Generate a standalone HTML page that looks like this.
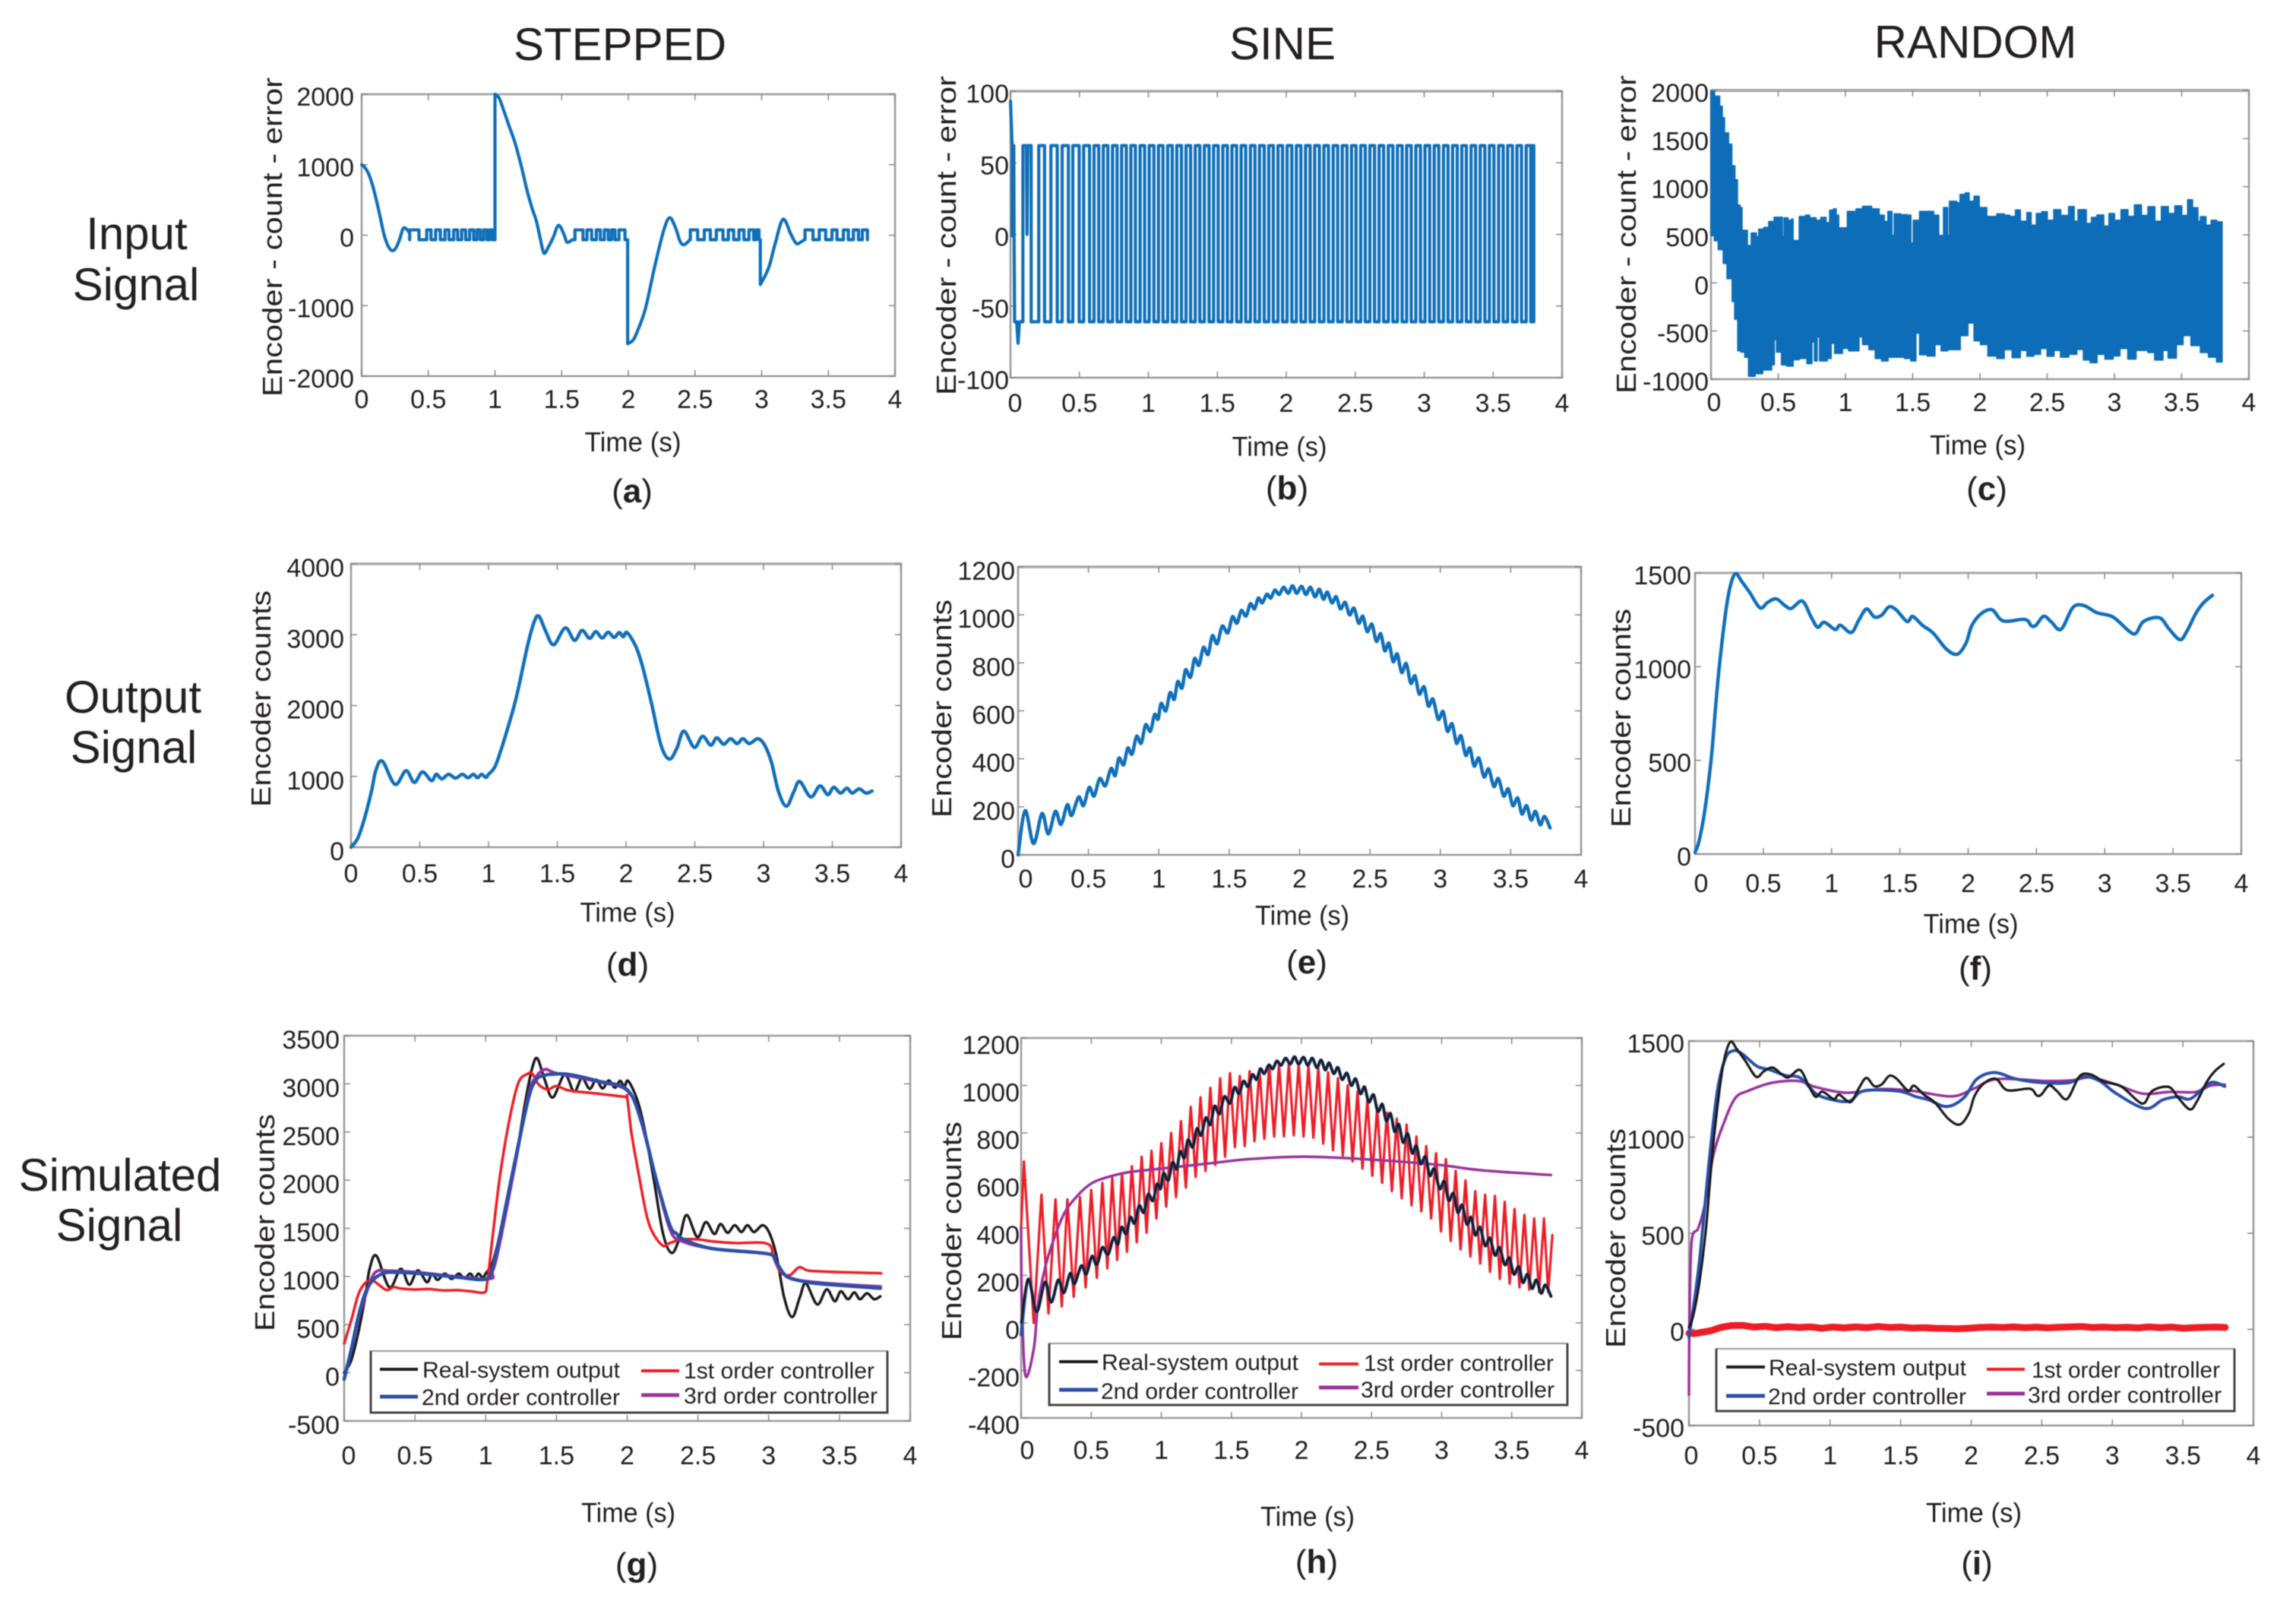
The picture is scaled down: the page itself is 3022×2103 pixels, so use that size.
<!DOCTYPE html>
<html lang="en">
<head>
<meta charset="utf-8">
<title>Controller signals</title>
<style>
html,body{margin:0;padding:0;background:#fff}
svg{display:block;filter:blur(0.6px)}
text{font-family:"Liberation Sans",sans-serif;fill:#231f20}
.ttl{font-size:60px;text-anchor:middle}
.ax{font-size:36px}
.tm{font-size:36px;text-anchor:middle}
.cap{font-size:44px;text-anchor:middle}
.cap tspan{font-weight:bold}
.lg{font-size:30px}
</style>
</head>
<body>
<svg id="figure" width="3022" height="2103" viewBox="0 0 3022 2103" xmlns="http://www.w3.org/2000/svg">
<rect width="3022" height="2103" fill="#fff"/>
<text class="ttl" x="816" y="79">STEPPED</text>
<text class="ttl" x="1688" y="78">SINE</text>
<text class="ttl" x="2600" y="76">RANDOM</text>
<text class="ttl" x="180" y="328">Input</text>
<text class="ttl" x="179" y="395">Signal</text>
<text class="ttl" x="175" y="938">Output</text>
<text class="ttl" x="176" y="1004">Signal</text>
<text class="ttl" x="158" y="1567">Simulated</text>
<text class="ttl" x="157" y="1633">Signal</text>

<g><g id="plot-a"></g>
<text class="ax" transform="translate(371,522) rotate(-90)" textLength="420" lengthAdjust="spacingAndGlyphs">Encoder - count - error</text>
<text class="tm" x="833" y="594" textLength="127" lengthAdjust="spacingAndGlyphs">Time (s)</text>
<text class="cap" x="832" y="661">(<tspan>a</tspan>)</text></g>

<g><g id="plot-b"></g>
<text class="ax" transform="translate(1258,520) rotate(-90)" textLength="420" lengthAdjust="spacingAndGlyphs">Encoder - count - error</text>
<text class="tm" x="1684" y="600" textLength="125" lengthAdjust="spacingAndGlyphs">Time (s)</text>
<text class="cap" x="1694" y="657">(<tspan>b</tspan>)</text></g>

<g><g id="plot-c"></g>
<text class="ax" transform="translate(2153,518) rotate(-90)" textLength="419" lengthAdjust="spacingAndGlyphs">Encoder - count - error</text>
<text class="tm" x="2603" y="598" textLength="126" lengthAdjust="spacingAndGlyphs">Time (s)</text>
<text class="cap" x="2615" y="658">(<tspan>c</tspan>)</text></g>

<g><g id="plot-d"></g>
<text class="ax" transform="translate(356,1062) rotate(-90)" textLength="285" lengthAdjust="spacingAndGlyphs">Encoder counts</text>
<text class="tm" x="826" y="1213" textLength="125" lengthAdjust="spacingAndGlyphs">Time (s)</text>
<text class="cap" x="826" y="1284">(<tspan>d</tspan>)</text></g>

<g><g id="plot-e"></g>
<text class="ax" transform="translate(1252,1076) rotate(-90)" textLength="287" lengthAdjust="spacingAndGlyphs">Encoder counts</text>
<text class="tm" x="1714" y="1217" textLength="124" lengthAdjust="spacingAndGlyphs">Time (s)</text>
<text class="cap" x="1720" y="1281">(<tspan>e</tspan>)</text></g>

<g><g id="plot-f"></g>
<text class="ax" transform="translate(2146,1089) rotate(-90)" textLength="288" lengthAdjust="spacingAndGlyphs">Encoder counts</text>
<text class="tm" x="2594" y="1228" textLength="125" lengthAdjust="spacingAndGlyphs">Time (s)</text>
<text class="cap" x="2600" y="1289">(<tspan>f</tspan>)</text></g>

<g><g id="plot-g"></g>
<text class="ax" transform="translate(361,1752) rotate(-90)" textLength="286" lengthAdjust="spacingAndGlyphs">Encoder counts</text>
<text class="tm" x="827" y="2003" textLength="124" lengthAdjust="spacingAndGlyphs">Time (s)</text>
<text class="cap" x="838" y="2074">(<tspan>g</tspan>)</text>
<g>
<rect x="488" y="1778" width="680" height="81" fill="#fff" stroke="#999" stroke-width="2"/>
<path d="M488 1778V1859H1168V1778" fill="none" stroke="#444" stroke-width="3"/>
<line x1="500" x2="550" y1="1802" y2="1802" stroke="#1a1a1a" stroke-width="4"/>
<text class="lg" x="556" y="1813" textLength="260" lengthAdjust="spacingAndGlyphs">Real-system output</text>
<line x1="844" x2="894" y1="1804" y2="1804" stroke="#ee1c25" stroke-width="4"/>
<text class="lg" x="900" y="1814" textLength="251" lengthAdjust="spacingAndGlyphs">1st order controller</text>
<line x1="500" x2="550" y1="1838" y2="1838" stroke="#2a4fa8" stroke-width="5"/>
<text class="lg" x="555" y="1849" textLength="261" lengthAdjust="spacingAndGlyphs">2nd order controller</text>
<line x1="844" x2="894" y1="1836" y2="1836" stroke="#9b329b" stroke-width="5"/>
<text class="lg" x="900" y="1847" textLength="255" lengthAdjust="spacingAndGlyphs">3rd order controller</text>
</g></g>

<g><g id="plot-h"></g>
<text class="ax" transform="translate(1265,1764) rotate(-90)" textLength="288" lengthAdjust="spacingAndGlyphs">Encoder counts</text>
<text class="tm" x="1721" y="2008" textLength="124" lengthAdjust="spacingAndGlyphs">Time (s)</text>
<text class="cap" x="1733" y="2070">(<tspan>h</tspan>)</text>
<g>
<rect x="1381" y="1768" width="682" height="81" fill="#fff" stroke="#999" stroke-width="2"/>
<path d="M1381 1768V1849H2063V1768" fill="none" stroke="#444" stroke-width="3"/>
<line x1="1394" x2="1445" y1="1792" y2="1792" stroke="#1a1a1a" stroke-width="4"/>
<text class="lg" x="1450" y="1803" textLength="259" lengthAdjust="spacingAndGlyphs">Real-system output</text>
<line x1="1736" x2="1788" y1="1795" y2="1795" stroke="#ee1c25" stroke-width="4"/>
<text class="lg" x="1795" y="1804" textLength="250" lengthAdjust="spacingAndGlyphs">1st order controller</text>
<line x1="1394" x2="1445" y1="1829" y2="1829" stroke="#2a4fa8" stroke-width="5"/>
<text class="lg" x="1449" y="1841" textLength="260" lengthAdjust="spacingAndGlyphs">2nd order controller</text>
<line x1="1736" x2="1788" y1="1826" y2="1826" stroke="#9b329b" stroke-width="5"/>
<text class="lg" x="1791" y="1839" textLength="255" lengthAdjust="spacingAndGlyphs">3rd order controller</text>
</g></g>

<g><g id="plot-i"></g>
<text class="ax" transform="translate(2139,1774) rotate(-90)" textLength="289" lengthAdjust="spacingAndGlyphs">Encoder counts</text>
<text class="tm" x="2598" y="2003" textLength="126" lengthAdjust="spacingAndGlyphs">Time (s)</text>
<text class="cap" x="2602" y="2072">(<tspan>i</tspan>)</text>
<g>
<rect x="2259" y="1775" width="682" height="82" fill="#fff" stroke="#999" stroke-width="2"/>
<path d="M2259 1775V1857H2941V1775" fill="none" stroke="#444" stroke-width="3"/>
<line x1="2272" x2="2323" y1="1799" y2="1799" stroke="#1a1a1a" stroke-width="4"/>
<text class="lg" x="2328" y="1810" textLength="260" lengthAdjust="spacingAndGlyphs">Real-system output</text>
<line x1="2615" x2="2665" y1="1802" y2="1802" stroke="#ee1c25" stroke-width="4"/>
<text class="lg" x="2674" y="1813" textLength="248" lengthAdjust="spacingAndGlyphs">1st order controller</text>
<line x1="2272" x2="2323" y1="1837" y2="1837" stroke="#2a4fa8" stroke-width="5"/>
<text class="lg" x="2327" y="1848" textLength="261" lengthAdjust="spacingAndGlyphs">2nd order controller</text>
<line x1="2615" x2="2665" y1="1834" y2="1834" stroke="#9b329b" stroke-width="5"/>
<text class="lg" x="2669" y="1846" textLength="255" lengthAdjust="spacingAndGlyphs">3rd order controller</text>
</g></g>
</svg>
<script>
const xTickValues = [0,0.5,1,1.5,2,2.5,3,3.5,4];
const xTickLabels = ['0','0.5','1','1.5','2','2.5','3','3.5','4'];
const yTicksA = [-2000,-1000,0,1000,2000];
const yTicksB = [-100,-50,0,50,100];
const yTicksC = [-1000,-500,0,500,1000,1500,2000];
const yTicksD = [0,1000,2000,3000,4000];
const yTicksE = [0,200,400,600,800,1000,1200];
const yTicksF = [0,500,1000,1500];
const yTicksG = [-500,0,500,1000,1500,2000,2500,3000,3500];
const yTicksH = [-400,-200,0,200,400,600,800,1000,1200];
const yTicksI = [-500,0,500,1000,1500];

/* panel (a) stepped input error: curve pieces and square-wave switching times */
const errA1T = [0,.02,.05,.08,.11,.14,.165,.19,.21,.23,.25,.27,.29,.305,.32,.34,.36];
const errA1V = [1000,970,880,720,500,250,30,-120,-190,-220,-200,-130,-30,70,105,80,30];
const errA1Edges = [.36,.43,.488,.52,.555,.59,.625,.655,.69,.72,.75,.78,.81,.84,.865,.89,.915,.94,.96,.98,.99];
const errA2T = [1,1,1.03,1.06,1.1,1.15,1.2,1.24,1.28,1.31,1.34,1.367,1.4,1.437,1.477,1.52,1.54,1.58];
const errA2V = [-65,2000,1950,1800,1580,1311,960,638,370,204,-50,-255,-170,-30,140,0,-100,-65];
const errA2Edges = [1.6,1.66,1.69,1.725,1.76,1.79,1.82,1.85,1.875,1.9,1.93,1.975];
const errA3T = [1.995,1.995,2.03,2.06,2.127,2.195,2.264,2.31,2.355,2.387,2.416,2.453,2.46];
const errA3V = [-65,-1540,-1500,-1400,-1050,-470,60,248,100,-83,-137,-83,-65];
const errA3Edges = [2.465,2.52,2.57,2.615,2.66,2.71,2.75,2.79,2.83,2.867,2.905,2.94,2.96,2.98];
const errA4T = [2.99,2.99,3.03,3.06,3.1,3.16,3.22,3.26,3.3,3.32];
const errA4V = [-65,-700,-560,-420,-130,225,10,-118,-90,-65];
const errA4Edges = [3.325,3.385,3.432,3.48,3.527,3.565,3.613,3.65,3.688,3.726,3.755,3.793];
const errALevels = [-65,75];

/* panel (b) sine input error */
const errBStartT = [0,.012,.012,.024,.026,.03,.045,.055,.065,.09,.09,.115,.12,.125,.15,.15];
const errBStartV = [93,62,-1,62,-1,-61,-61,-76,-61,-61,62,62,0,62,62,-61];
const errBEdges = [.205,.247,.293,.339,.375,.42,.452,.498,.531,.573,.606,.640,.673,.706,.740,.773,.806,.840,.873,.906,.940,.973,1.006,1.040,1.073,1.106,1.140,1.173,1.206,1.240,1.273,1.306,1.340,1.373,1.406,1.440,1.473,1.506,1.540,1.573,1.606,1.640,1.673,1.706,1.740,1.773,1.806,1.840,1.873,1.906,1.940,1.973,2.006,2.040,2.073,2.106,2.140,2.173,2.206,2.240,2.273,2.306,2.340,2.373,2.406,2.440,2.473,2.506,2.540,2.573,2.606,2.640,2.673,2.706,2.740,2.773,2.806,2.840,2.873,2.906,2.940,2.973,3.006,3.040,3.073,3.106,3.140,3.173,3.206,3.240,3.273,3.306,3.340,3.373,3.406,3.440,3.473,3.506,3.540,3.573,3.606,3.640,3.673,3.706,3.740,3.773,3.785,3.795];
const errBLevels = [-61,62];

/* panel (c) random input error band */
const errCUpperT = [0,.026,.064,.083,.1,.13,.154,.177,.196,.215,.23,.262,.27,.29,.3,.337,.356,.394,.43,.47,.516,.53,.544,.572,.6,.61,.657,.704,.733,.742,.78,.808,.817,.855,.883,.911,.93,.949,.955,1.015,1.062,1.07,1.08,1.128,1.194,1.25,1.288,1.316,1.345,1.363,1.41,1.458,1.486,1.505,1.552,1.6,1.655,1.693,1.73,1.759,1.774,1.825,1.853,1.891,1.919,1.957,1.994,2.05,2.126,2.18,2.22,2.265,2.3,2.35,2.38,2.42,2.46,2.5,2.55,2.6,2.66,2.7,2.73,2.79,2.83,2.87,2.92,2.96,3.0,3.05,3.1,3.15,3.2,3.25,3.3,3.35,3.4,3.45,3.5,3.545,3.58,3.62,3.64,3.68,3.72,3.76,3.8];
const errCUpperV = [1992,1940,1834,1716,1558,1440,1216,1071,808,782,545,545,387,334,518,479,558,576,637,682,682,479,676,650,663,440,689,703,550,676,650,545,680,624,755,768,703,413,571,742,742,439,768,795,768,703,637,742,492,716,708,703,413,650,742,742,703,492,782,492,847,834,918,934,847,900,782,689,716,703,690,757,640,730,600,720,739,650,760,700,792,640,760,616,680,704,590,720,650,760,690,810,700,790,640,792,720,800,700,863,780,640,687,600,650,634,475];
const errCLowerT = [0,.026,.055,.092,.12,.149,.158,.177,.2,.224,.252,.28,.328,.384,.45,.47,.488,.525,.563,.61,.657,.714,.75,.77,.789,.808,.864,.893,.92,.977,1.024,1.1,1.128,1.175,1.222,1.269,1.316,1.363,1.439,1.486,1.523,1.552,1.608,1.665,1.712,1.759,1.853,1.91,1.957,2.004,2.06,2.126,2.18,2.24,2.3,2.35,2.4,2.45,2.5,2.55,2.6,2.66,2.72,2.77,2.82,2.87,2.93,2.99,3.04,3.1,3.16,3.25,3.3,3.36,3.4,3.46,3.51,3.57,3.64,3.7,3.76,3.8];
const errCLowerV = [492,439,347,203,45,45,-192,-376,-705,-718,-771,-968,-942,-903,-850,-587,-718,-850,-863,-797,-784,-837,-613,-810,-560,-810,-784,-626,-731,-679,-705,-560,-640,-692,-784,-810,-771,-771,-784,-810,-521,-745,-758,-640,-705,-692,-547,-416,-600,-640,-758,-784,-692,-775,-700,-760,-740,-680,-760,-700,-770,-740,-690,-800,-827,-740,-790,-757,-680,-790,-700,-722,-800,-700,-780,-640,-546,-650,-722,-770,-820,-800];

/* real-system outputs */
const stepT = [0,.05,.1,.15,.18,.228,.32,.4,.46,.52,.585,.62,.66,.71,.76,.81,.85,.89,.92,.95,.98,1,1.05,1.115,1.2,1.283,1.333,1.367,1.417,1.474,1.558,1.625,1.68,1.735,1.78,1.826,1.87,1.913,1.95,1.98,2.007,2.07,2.12,2.187,2.254,2.315,2.37,2.42,2.496,2.556,2.616,2.66,2.71,2.76,2.807,2.85,2.897,2.958,3.008,3.058,3.109,3.166,3.22,3.263,3.343,3.41,3.467,3.51,3.56,3.605,3.645,3.695,3.745,3.789];
const stepOutput = [0,130,420,800,1080,1215,887,1080,915,1063,940,1030,965,1030,975,1030,980,1030,980,1030,985,1030,1150,1523,2100,2838,3187,3260,3043,2858,3096,2920,3060,2948,3043,2953,3035,2961,3031,2970,3031,2838,2550,2016,1441,1244,1400,1639,1409,1565,1441,1544,1454,1532,1462,1532,1462,1532,1441,1195,784,579,784,928,710,866,743,846,764,834,764,825,764,793];
const sineT = [0,.05,.11,.17,.215,.265,.305,.35,.38,.43,.465,.505,.54,.58,.62,.66,.69,.716,.75,.779,.81,.842,.875,.906,.94,.97,.995,1.016,1.05,1.08,1.11,1.134,1.165,1.19,1.225,1.254,1.285,1.317,1.35,1.38,1.415,1.45,1.49,1.523,1.555,1.586,1.62,1.65,1.68,1.707,1.735,1.767,1.795,1.824,1.855,1.887,1.92,1.95,1.98,2.014,2.045,2.077,2.11,2.14,2.17,2.197,2.23,2.26,2.29,2.324,2.355,2.387,2.42,2.45,2.48,2.514,2.545,2.577,2.605,2.635,2.665,2.694,2.725,2.758,2.79,2.82,2.85,2.885,2.915,2.948,2.985,3.02,3.05,3.084,3.115,3.147,3.18,3.21,3.24,3.274,3.31,3.344,3.38,3.413,3.45,3.483,3.515,3.55,3.58,3.613,3.645,3.676,3.71,3.74,3.78];
const sineOutput = [0,184,47,172,87,181,127,209,164,241,205,281,245,318,288,360,330,403,375,445,420,494,465,542,515,585,565,631,600,676,648,722,695,771,740,818,790,864,835,913,880,953,925,992,965,1018,995,1046,1025,1070,1050,1086,1070,1103,1085,1115,1090,1121,1090,1119,1085,1115,1075,1107,1065,1095,1050,1076,1025,1052,1000,1028,965,994,930,961,890,921,850,882,805,837,760,797,715,746,670,700,620,649,565,597,515,546,465,496,415,445,370,403,325,358,285,318,245,275,205,237,170,205,145,181,125,160,112];
const randT = [0,.03,.073,.12,.15,.179,.227,.26,.297,.339,.4,.476,.53,.594,.658,.706,.786,.85,.898,.946,1.026,1.064,1.144,1.2,1.256,1.313,1.367,1.42,1.473,1.553,1.594,1.665,1.744,1.84,1.92,1.984,2.026,2.096,2.176,2.256,2.415,2.463,2.495,2.553,2.607,2.68,2.767,2.847,2.942,3.06,3.182,3.23,3.284,3.4,3.47,3.55,3.6,3.67,3.725,3.789];
const randOutput = [10,70,240,520,780,1010,1303,1435,1497,1458,1396,1314,1342,1362,1326,1311,1350,1265,1210,1237,1198,1221,1182,1249,1308,1265,1275,1319,1303,1241,1268,1221,1179,1094,1066,1125,1218,1283,1303,1244,1252,1218,1220,1269,1240,1199,1316,1326,1288,1265,1187,1179,1241,1261,1202,1144,1187,1288,1342,1381];

/* panel (g) controllers */
const gFirstT = [0,.05,.1,.15,.2,.25,.3,.35,.4,.5,.6,.7,.8,.9,.99,1.01,1.05,1.1,1.165,1.23,1.295,1.33,1.377,1.44,1.5,1.59,1.78,1.98,2,2.03,2.08,2.14,2.19,2.255,2.29,2.385,2.5,2.6,2.76,2.99,3.035,3.085,3.15,3.215,3.28,3.41,3.57,3.795];
const gFirstV = [305,545,813,935,958,908,859,889,875,865,870,855,858,845,835,927,1424,2034,2607,3008,3103,3103,2989,2942,2977,2931,2900,2866,2855,2492,2073,1620,1430,1317,1340,1385,1385,1365,1347,1340,1195,1042,1015,1095,1061,1050,1042,1034];
const gSecondT = [0,.05,.1,.15,.2,.25,.3,.4,.6,.8,1,1.05,1.1,1.2,1.3,1.35,1.4,1.5,1.6,1.8,2,2.1,2.2,2.3,2.35,2.4,2.6,3,3.05,3.1,3.15,3.3,3.5,3.79];
const gSecondV = [-65,240,584,832,958,1015,1042,1042,1023,992,973,1099,1424,2149,2836,3027,3084,3103,3095,3027,2939,2607,2034,1538,1443,1385,1290,1233,1157,1042,985,935,908,878];
const gThirdT = [0,.05,.1,.15,.2,.24,.3,.5,1,1.05,1.1,1.2,1.3,1.35,1.42,1.5,1.8,2,2.1,2.2,2.3,2.38,2.6,3,3.05,3.1,3.16,3.3,3.5,3.79];
const gThirdV = [-70,240,560,800,1000,1060,1060,1045,975,1060,1350,2100,2870,3060,3150,3110,3020,2930,2620,2040,1500,1370,1290,1235,1150,1040,975,945,920,895];

/* panel (h) controllers */
const hFirstT = [0,.02,.09,.145,.195,.245,.29,.33,.375,.42,.46,.5,.54,.58,.615,.65,.685,.72,.755,.79,.825,.86,.895,.93,.965,1,1.035,1.07,1.105,1.14,1.175,1.21,1.245,1.28,1.315,1.35,1.385,1.42,1.455,1.49,1.525,1.56,1.595,1.63,1.665,1.7,1.735,1.77,1.805,1.84,1.875,1.91,1.945,1.98,2.015,2.05,2.085,2.12,2.155,2.19,2.225,2.26,2.295,2.33,2.365,2.4,2.435,2.47,2.505,2.54,2.575,2.61,2.645,2.68,2.715,2.75,2.785,2.82,2.855,2.89,2.925,2.96,2.995,3.03,3.065,3.1,3.135,3.17,3.205,3.24,3.275,3.31,3.345,3.38,3.415,3.45,3.485,3.52,3.555,3.59,3.625,3.66,3.695,3.73,3.76,3.79];
const hFirstV = [400,680,0,540,40,520,70,520,110,530,150,560,190,590,230,610,265,630,300,660,340,700,380,725,440,757,490,800,530,850,570,910,615,950,640,990,665,1030,700,1052,740,1040,745,1060,765,1070,775,1085,785,1090,786,1095,790,1090,785,1085,780,1075,755,1055,727,1030,705,1000,680,975,650,940,620,905,590,885,555,860,525,835,495,785,470,745,440,715,385,690,345,640,310,600,280,555,250,540,215,535,185,510,165,480,150,455,140,440,130,440,130,370];
const hThirdT = [0,.005,.03,.09,.12,.17,.23,.31,.41,.5,.6,.76,1,1.36,1.63,2,2.35,2.67,2.99,3.3,3.78];
const hThirdV = [400,100,-220,-110,75,230,347,464,541,587,611,634,650,673,690,700,693,681,665,642,623];
const hSecondV = sineOutput.slice();
hSecondV[0] = -50;

/* panel (i) controllers */
const iFirstT = [0,.04,.1,.16,.22,.3,.38,.46,.54,.62,.7,.78,.86,.94,1.02,1.1,1.18,1.26,1.34,1.42,1.5,1.58,1.66,1.74,1.82,1.9,1.98,2.06,2.14,2.22,2.3,2.38,2.46,2.54,2.62,2.7,2.78,2.86,2.94,3.02,3.1,3.18,3.26,3.34,3.42,3.5,3.58,3.66,3.74,3.8];
const iFirstV = [-20,-22,-14,-6,9,20,21,12,16,9,14,10,13,6,12,8,13,9,15,10,12,7,9,6,5,3,6,10,12,10,13,9,12,8,11,13,15,10,12,9,11,8,13,9,12,6,9,11,12,10];
const iSecondT = [0,.034,.08,.14,.2,.257,.312,.374,.482,.575,.683,.79,.9,1.02,1.14,1.24,1.487,1.61,1.7,1.827,1.95,2.04,2.167,2.32,2.507,2.69,2.8,2.91,3.03,3.233,3.357,3.465,3.558,3.696,3.796];
const iSecondV = [-40,125,392,852,1234,1407,1449,1435,1369,1350,1321,1308,1226,1194,1188,1241,1239,1210,1194,1159,1206,1302,1336,1302,1283,1283,1315,1292,1226,1149,1194,1210,1201,1283,1264];
const iThirdT = [0,.003,.018,.065,.11,.173,.25,.328,.42,.59,.776,.9,1.116,1.363,1.58,1.858,2.012,2.182,2.538,2.72,2.847,3.03,3.218,3.403,3.59,3.696,3.796];
const iThirdV = [-340,0,450,525,640,907,1079,1203,1241,1283,1292,1260,1231,1250,1241,1212,1250,1302,1292,1296,1311,1273,1226,1235,1235,1268,1273];

const NS = 'http://www.w3.org/2000/svg';
const BLUE = '#0f6fba', BLACK = '#1a1a1a', RED = '#ee1c25', NAVY = '#2a4fa8', PURPLE = '#9b329b';

function make(tag, attrs, parent) {
  const node = document.createElementNS(NS, tag);
  for (const k in attrs) node.setAttribute(k, attrs[k]);
  parent.appendChild(node);
  return node;
}
function xScale(p) { return t => p.left + (t / 4) * (p.right - p.left); }
function yScale(p) { return v => p.bottom - ((v - p.yTicks[0]) / (p.yTicks[p.yTicks.length - 1] - p.yTicks[0])) * (p.bottom - p.top); }

function drawAxes(id, p) {
  const g = document.getElementById('plot-' + id);
  const X = xScale(p), Y = yScale(p);
  const frame = make('rect', {x: p.left, y: p.top, width: p.right - p.left, height: p.bottom - p.top, fill: 'none', stroke: '#9a9a9a', 'stroke-width': 2.5}, g);
  
  
  const topEdge = make('line', {x1: p.left, x2: p.right, y1: p.top, y2: p.top, stroke: '#a8a8a8', 'stroke-width': p.topEdge}, g);
  
  
  xTickValues.forEach((t, i) => {
    const px = X(t);
    const tick = make('path', {d: `M${px} ${p.bottom}v-8M${px} ${p.top}v8`, stroke: '#888', 'stroke-width': 1.5, fill: 'none'}, g);
    
    
    const label = make('text', {x: px + (i === 0 ? p.zeroDx : 0), y: p.bottom + p.xLabelDy, 'font-size': 34, 'text-anchor': 'middle'}, g);
    
    
    label.textContent = xTickLabels[i];
  });
  p.yTicks.forEach(v => {
    const py = Y(v);
    const tick = make('path', {d: `M${p.left} ${py}h8M${p.right} ${py}h-8`, stroke: '#888', 'stroke-width': 1.5, fill: 'none'}, g);
    
    
    const label = make('text', {x: p.left + p.yLabelDx, y: py + p.yLabelDy, 'font-size': 34, 'text-anchor': 'end'}, g);
    
    
    label.textContent = String(v);
  });
  return g;
}

function linearD(pts) {
  return pts.map((q, i) => (i ? 'L' : 'M') + q[0].toFixed(2) + ' ' + q[1].toFixed(2)).join('');
}
function smoothD(pts) {
  let d = 'M' + pts[0][0].toFixed(2) + ' ' + pts[0][1].toFixed(2);
  for (let i = 0; i < pts.length - 1; i++) {
    const a = pts[Math.max(i - 1, 0)], b = pts[i], c = pts[i + 1], e = pts[Math.min(i + 2, pts.length - 1)];
    d += 'C' + (b[0] + (c[0] - a[0]) / 6).toFixed(2) + ' ' + (b[1] + (c[1] - a[1]) / 6).toFixed(2) + ' ' +
      (c[0] - (e[0] - b[0]) / 6).toFixed(2) + ' ' + (c[1] - (e[1] - b[1]) / 6).toFixed(2) + ' ' +
      c[0].toFixed(2) + ' ' + c[1].toFixed(2);
  }
  return d;
}
function toPoints(p, ts, vs) {
  const X = xScale(p), Y = yScale(p), out = [];
  for (let i = 0; i < Math.min(ts.length, vs.length); i++) out.push([X(ts[i]), Y(vs[i])]);
  return out;
}
function strokePath(g, d, color, width) {
  return make('path', {d: d, fill: 'none', stroke: color, 'stroke-width': width, 'stroke-linejoin': 'round', 'stroke-linecap': 'round'}, g);
}
function drawSeries(g, p, ts, vs, color, width, smooth) {
  const pts = toPoints(p, ts, vs);
  return strokePath(g, smooth ? smoothD(pts) : linearD(pts), color, width);
}
/* alternating level switches, starting on the low level */
function squareWave(ts, vs, edges, levels) {
  let state = 0;
  edges.forEach(e => {
    ts.push(e); vs.push(levels[state]);
    state = 1 - state;
    ts.push(e); vs.push(levels[state]);
  });
}
/* staircase outline of a sampled envelope */
function stairs(pts) {
  const out = [];
  pts.forEach((q, i) => {
    out.push(q);
    if (i < pts.length - 1) out.push([pts[i + 1][0], q[1]]);
  });
  return out;
}

const panelA = {left: 476, right: 1178, top: 124, bottom: 495, yTicks: yTicksA, xLabelDy: 42, yLabelDx: -10, yLabelDy: 15, zeroDx: 0, topEdge: 3};
const panelB = {left: 1330, right: 2056, top: 120, bottom: 497, yTicks: yTicksB, xLabelDy: 45, yLabelDx: -2, yLabelDy: 15, zeroDx: 6, topEdge: 3.5};
const panelC = {left: 2252, right: 2960, top: 119, bottom: 499, yTicks: yTicksC, xLabelDy: 42, yLabelDx: -3, yLabelDy: 15, zeroDx: 4, topEdge: 4};
const panelD = {left: 462, right: 1186, top: 742, bottom: 1115, yTicks: yTicksD, xLabelDy: 46, yLabelDx: -9, yLabelDy: 17, zeroDx: 0, topEdge: 3.5};
const panelE = {left: 1340, right: 2081, top: 746, bottom: 1125, yTicks: yTicksE, xLabelDy: 43, yLabelDx: -4, yLabelDy: 17, zeroDx: 10, topEdge: 3.5};
const panelF = {left: 2231, right: 2950, top: 754, bottom: 1124, yTicks: yTicksF, xLabelDy: 50, yLabelDx: -5, yLabelDy: 15, zeroDx: 8, topEdge: 3};
const panelG = {left: 453, right: 1198, top: 1363, bottom: 1870, yTicks: yTicksG, xLabelDy: 57, yLabelDx: -6, yLabelDy: 17, zeroDx: 6, topEdge: 2.5};
const panelH = {left: 1344, right: 2082, top: 1366, bottom: 1866, yTicks: yTicksH, xLabelDy: 54, yLabelDx: -2, yLabelDy: 21, zeroDx: 8, topEdge: 2.5};
const panelI = {left: 2223, right: 2966, top: 1370, bottom: 1876, yTicks: yTicksI, xLabelDy: 51, yLabelDx: -6, yLabelDy: 15, zeroDx: 3, topEdge: 2.5};

/* (a) */
(function () {
  const g = drawAxes('a', panelA);
  let d = '';
  [[errA1T, errA1V, errA1Edges], [errA2T, errA2V, errA2Edges], [errA3T, errA3V, errA3Edges], [errA4T, errA4V, errA4Edges]].forEach(piece => {
    const curve = toPoints(panelA, piece[0], piece[1]);
    /* pieces after the first open with a vertical jump, drawn straight */
    if (d) d += 'L' + curve[0][0].toFixed(2) + ' ' + curve[0][1].toFixed(2);
    const rest = d ? curve.slice(1) : curve;
    d += (d ? 'L' : 'M') + smoothD(rest).slice(1);
    const ts = [], vs = [];
    squareWave(ts, vs, piece[2], errALevels);
    d += linearD(toPoints(panelA, ts, vs)).replace('M', 'L');
  });
  const line = strokePath(g, d, BLUE, 4.2);
  
  
})();

/* (b) */
(function () {
  const g = drawAxes('b', panelB);
  const ts = errBStartT.slice(), vs = errBStartV.slice();
  squareWave(ts, vs, errBEdges, errBLevels);
  const line = drawSeries(g, panelB, ts, vs, BLUE, 4.2, false);
  
  
})();

/* (c) */
(function () {
  const g = drawAxes('c', panelC);
  const upper = stairs(toPoints(panelC, errCUpperT, errCUpperV));
  const lower = stairs(toPoints(panelC, errCLowerT, errCLowerV)).reverse();
  const band = make('path', {d: linearD(upper.concat(lower)) + 'Z', fill: '#0d6db8', stroke: '#0d6db8', 'stroke-width': 2, 'stroke-linejoin': 'round'}, g);
  
  
})();

/* (d), (e), (f) */
(function () {
  const d = drawSeries(drawAxes('d', panelD), panelD, stepT, stepOutput, BLUE, 4.5, true);
  
  
  const e = drawSeries(drawAxes('e', panelE), panelE, sineT, sineOutput, BLUE, 4.5, true);
  
  
  const f = drawSeries(drawAxes('f', panelF), panelF, randT, randOutput, BLUE, 4.5, true);
  
  
})();

/* (g) */
(function () {
  const g = drawAxes('g', panelG);
  const real = drawSeries(g, panelG, stepT, stepOutput, BLACK, 3.5, true);
  
  
  const first = drawSeries(g, panelG, gFirstT, gFirstV, RED, 3.5, true);
  
  
  const third = drawSeries(g, panelG, gThirdT, gThirdV, PURPLE, 4, true);
  
  
  const second = drawSeries(g, panelG, gSecondT, gSecondV, NAVY, 4.5, true);
  
  
})();

/* (h) */
(function () {
  const g = drawAxes('h', panelH);
  const first = drawSeries(g, panelH, hFirstT, hFirstV, RED, 3.2, false);
  
  
  const third = drawSeries(g, panelH, hThirdT, hThirdV, PURPLE, 3.5, true);
  
  
  const second = drawSeries(g, panelH, sineT, hSecondV, NAVY, 4.2, true);
  
  
  const real = drawSeries(g, panelH, sineT, sineOutput, BLACK, 2.8, true);
  
  
})();

/* (i) */
(function () {
  const g = drawAxes('i', panelI);
  const first = drawSeries(g, panelI, iFirstT, iFirstV, RED, 9, false);
  
  
  const third = drawSeries(g, panelI, iThirdT, iThirdV, PURPLE, 3.5, true);
  
  
  const second = drawSeries(g, panelI, iSecondT, iSecondV, NAVY, 4, true);
  
  
  const real = drawSeries(g, panelI, randT, randOutput, BLACK, 3.2, true);
  
  
})();
</script>
</body>
</html>
